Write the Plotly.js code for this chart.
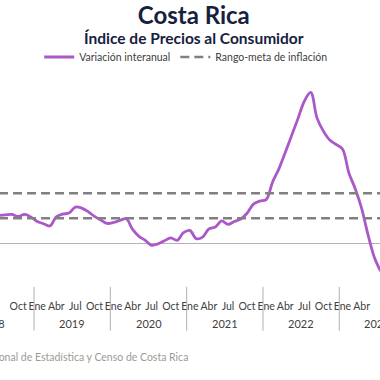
<!DOCTYPE html>
<html>
<head>
<meta charset="utf-8">
<script src="https://cdn.plot.ly/plotly-3.0.1.min.js"></script>
<style>
  html, body { margin: 0; padding: 0; background: #ffffff; }
  #chart { width: 380px; height: 380px; }
</style>
</head>
<body>
<div id="chart"></div>
<script>
// Months from Jul 2018 to Jul 2023 (category positions 0..60)
const monthLabels = [
  'Jul 2018','Ago 2018','Sep 2018','Oct 2018','Nov 2018','Dic 2018',
  'Ene 2019','Feb 2019','Mar 2019','Abr 2019','May 2019','Jun 2019','Jul 2019','Ago 2019','Sep 2019','Oct 2019','Nov 2019','Dic 2019',
  'Ene 2020','Feb 2020','Mar 2020','Abr 2020','May 2020','Jun 2020','Jul 2020','Ago 2020','Sep 2020','Oct 2020','Nov 2020','Dic 2020',
  'Ene 2021','Feb 2021','Mar 2021','Abr 2021','May 2021','Jun 2021','Jul 2021','Ago 2021','Sep 2021','Oct 2021','Nov 2021','Dic 2021',
  'Ene 2022','Feb 2022','Mar 2022','Abr 2022','May 2022','Jun 2022','Jul 2022','Ago 2022','Sep 2022','Oct 2022','Nov 2022','Dic 2022',
  'Ene 2023','Feb 2023','Mar 2023','Abr 2023','May 2023','Jun 2023','Jul 2023'
];

// Variación interanual (%)
const variacion = [
  2.23, 2.27, 2.31, 2.15, 2.31, 2.11,
  1.75, 1.57, 1.39, 2.11, 2.34, 2.42, 2.90, 2.82, 2.54, 2.15, 1.87, 1.59,
  1.67, 1.83, 1.96, 1.11, 0.56, 0.24, -0.16, -0.04, 0.20, 0.44, 0.24, 0.85,
  1.03, 0.38, 0.50, 1.15, 1.31, 1.79, 1.51, 1.75, 1.95, 2.41, 3.14, 3.38,
  3.50, 4.89, 5.96, 7.27, 8.62, 9.98, 11.37, 12.08, 10.02, 8.98, 8.27, 7.91,
  7.55, 5.64, 4.37, 2.82, 0.72, -1.11, -2.23
];

// Rango-meta de inflación (%)
const metaInferior = 2;
const metaSuperior = 4;

// Axis labels
const tickLabels = ['Jul','Oct','Ene','Abr','Jul','Oct','Ene','Abr','Jul','Oct','Ene','Abr','Jul','Oct','Ene','Abr','Jul','Oct','Ene','Abr','Jul','Oct','Ene','Abr','Jul'];
const years = ['2018','2019','2020','2021','2022','2023'];

const xs = monthLabels.map((_, i) => i);
const tickVals = tickLabels.map((_, i) => i * 3);
// Year centres at the middle of each 12-month block (Jan 2019 = index 6)
const yearCentres = years.map((_, k) => -0.5 + 12 * k);
const yearBounds = years.slice(1).map((_, k) => 5.5 + 12 * k);

const xRange = [0.151, 59.90];
const navy = '#16213e';
const grayText = '#404040';
const fontFam = 'Lato, "Open Sans", sans-serif';

const traces = [
  {
    x: xs, y: variacion, type: 'scatter', mode: 'lines',
    name: 'Variación interanual',
    line: { color: '#ab58c8', width: 2.8, shape: 'spline', smoothing: 1 },
    hoverinfo: 'skip'
  },
  {
    x: [xs[0], xs[xs.length - 1]], y: [metaSuperior, metaSuperior],
    type: 'scatter', mode: 'lines', name: 'Rango-meta de inflación',
    line: { color: '#808080', width: 2.5, dash: '9px,5px' },
    hoverinfo: 'skip'
  },
  {
    x: [xs[0], xs[xs.length - 1]], y: [metaInferior, metaInferior],
    type: 'scatter', mode: 'lines', name: 'Rango-meta de inflación', showlegend: false,
    line: { color: '#808080', width: 2.5, dash: '9px,5px' },
    hoverinfo: 'skip'
  }
];

const shapes = yearBounds.map(b => ({
  type: 'line', xref: 'x', yref: 'paper', x0: b, x1: b, y0: 0.005, y1: -0.197,
  line: { color: '#b0b0b0', width: 1 }
}));

const annotations = years.map((yr, k) => {
  const c = yearCentres[k];
  const inside = c >= xRange[0];
  // a label whose centre lies left of the visible range is anchored on its right edge
  return {
    x: inside ? c : c + 1.75, xref: 'x', y: -0.165, yref: 'paper',
    text: yr, showarrow: false, xanchor: inside ? 'center' : 'right', yanchor: 'middle',
    font: { family: fontFam, size: 11, color: grayText }
  };
});

annotations.push({
  x: 0.51, xref: 'paper', y: 1.156, yref: 'paper',
  text: 'Índice de Precios al Consumidor', showarrow: false,
  xanchor: 'center', yanchor: 'middle',
  font: { family: fontFam, size: 15.5, color: navy, weight: 'bold' }
});

annotations.push({
  x: 0.5, xref: 'paper', y: -0.3165, yref: 'paper',
  text: 'Fuente: Instituto Nacional de Estadística y Censo de Costa Rica', showarrow: false,
  xanchor: 'right', yanchor: 'middle',
  font: { family: fontFam, size: 10.5, color: '#a09a93' }
});

const layout = {
  width: 380, height: 380,
  margin: { l: 0, r: 0, t: 70, b: 92, pad: 0 },
  paper_bgcolor: '#ffffff', plot_bgcolor: '#ffffff',
  title: {
    text: 'Costa Rica', x: 0.51, xanchor: 'center', xref: 'paper',
    y: 0.958, yref: 'container', yanchor: 'middle',
    font: { family: fontFam, size: 24, color: navy, weight: 'bold' }
  },
  showlegend: true,
  legend: {
    orientation: 'h', x: 0.49, xanchor: 'center', y: 0.85, yref: 'container', yanchor: 'middle',
    font: { family: fontFam, size: 10.5, color: grayText },
    itemwidth: 30, bgcolor: 'rgba(0,0,0,0)'
  },
  xaxis: {
    range: xRange, showgrid: false, zeroline: false, showline: false,
    tickmode: 'array', tickvals: tickVals, ticktext: tickLabels, tickangle: 0,
    ticks: 'outside', ticklen: 8, tickcolor: 'rgba(0,0,0,0)',
    tickfont: { family: fontFam, size: 10.5, color: grayText },
    fixedrange: true
  },
  yaxis: {
    range: [-3.577, 13.752], showgrid: false, showticklabels: false, ticks: '',
    showline: false, zeroline: true, zerolinecolor: '#b3b3b3', zerolinewidth: 1,
    fixedrange: true
  },
  shapes: shapes,
  annotations: annotations
};

Plotly.newPlot('chart', traces, layout, { displayModeBar: false, staticPlot: true });
</script>
</body>
</html>
